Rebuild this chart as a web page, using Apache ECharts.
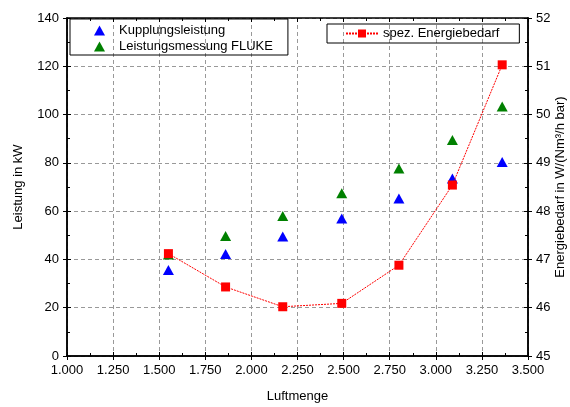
<!DOCTYPE html>
<html>
<head>
<meta charset="utf-8">
<script src="https://cdn.jsdelivr.net/npm/echarts@6/dist/echarts.min.js"></script>
<style>
html, body { margin: 0; padding: 0; background: #fff; }
#main { width: 570px; height: 407px; }
</style>
</head>
<body>
<div id="main"></div>
<script>
// Luftmenge (x)
var luftmenge = [1.55, 1.86, 2.17, 2.49, 2.80, 3.09, 3.36];
// Leistung in kW (linke Achse)
var kupplung = [35.6, 42.2, 49.5, 57.0, 65.2, 73.5, 80.4];
var fluke = [42.0, 49.7, 58.0, 67.4, 77.7, 89.5, 103.3];
// spez. Energiebedarf (rechte Achse)
var energie = [47.12, 46.43, 46.02, 46.09, 46.88, 48.54, 51.03];

function pairs(xs, ys) {
    var out = [];
    for (var i = 0; i < xs.length; i++) {
        out.push([xs[i], ys[i]]);
    }
    return out;
}

var fontFam = '"Liberation Sans", Arial, sans-serif';
var fs = 13;
var lineStyleAxis = { color: '#000', width: 1.5 };
var gridLine = { show: true, lineStyle: { color: '#999', type: [4, 3], width: 1 } };

// Achsen doppelt: eine mit Ticks aussen (+Beschriftung), eine mit Ticks innen (+Minor)
function xAx(pos, outside, labels) {
    return {
        type: 'value', position: pos, min: 1, max: 3.5, interval: 0.25,
        name: labels ? 'Luftmenge' : '', nameLocation: 'middle', nameGap: 34, nameMoveOverlap: false,
        nameTextStyle: { color: '#000', fontSize: fs, fontFamily: fontFam },
        axisLine: { show: true, onZero: false, lineStyle: lineStyleAxis },
        axisTick: { show: true, inside: !outside, length: 4, lineStyle: { color: '#000', width: 1 } },
        minorTick: { show: !outside, splitNumber: 2, length: 3, lineStyle: { color: '#000' } },
        axisLabel: {
            show: labels, color: '#000', fontSize: fs, fontFamily: fontFam, margin: 8,
            formatter: function (v) { return v.toFixed(3); }
        },
        splitLine: labels ? gridLine : { show: false }
    };
}

function yAx(pos, min, max, interval, outside, labels, name, nameGap) {
    return {
        type: 'value', position: pos, min: min, max: max, interval: interval,
        name: labels ? name : '', nameLocation: 'middle', nameGap: nameGap, nameRotate: 90,
        nameMoveOverlap: false,
        nameTextStyle: { color: '#000', fontSize: fs, fontFamily: fontFam },
        axisLine: { show: true, onZero: false, lineStyle: lineStyleAxis },
        axisTick: { show: true, inside: !outside, length: 4, lineStyle: { color: '#000', width: 1 } },
        minorTick: { show: !outside, splitNumber: 2, length: 3, lineStyle: { color: '#000' } },
        axisLabel: { show: labels, color: '#000', fontSize: fs, fontFamily: fontFam, margin: 8 },
        splitLine: (labels && pos === 'left') ? gridLine : { show: false }
    };
}

var myChart = echarts.init(document.getElementById('main'));
myChart.setOption({
    backgroundColor: '#fff',
    animation: false,
    textStyle: { fontFamily: fontFam },
    grid: { left: 67, right: 42, top: 18, bottom: 51, outerBoundsMode: 'none' },
    legend: [
        {
            data: ['Kupplungsleistung', 'Leistungsmessung FLUKE'],
            orient: 'vertical', left: 70, top: 19,
            borderColor: '#000', borderWidth: 1, borderRadius: 0,
            padding: [5, 15, 2, 24], itemGap: 3, itemWidth: 11, itemHeight: 10,
            textStyle: { color: '#000', fontSize: fs, fontFamily: fontFam, padding: [0, 0, 0, 9] }
        },
        {
            data: ['spez. Energiebedarf'],
            left: 327, top: 24,
            borderColor: '#000', borderWidth: 1, borderRadius: 0,
            padding: [3, 20, 3, 18], itemWidth: 32, itemHeight: 10,
            textStyle: { color: '#000', fontSize: fs, fontFamily: fontFam }
        }
    ],
    xAxis: [
        xAx('bottom', true, true),
        xAx('bottom', false, false),
        xAx('top', false, false)
    ],
    yAxis: [
        yAx('left', 0, 140, 20, true, true, 'Leistung in kW', 42),
        yAx('left', 0, 140, 20, false, false, '', 0),
        yAx('right', 45, 52, 1, true, true, 'Energiebedarf in W/(Nm\u00b3/h bar)', 26),
        yAx('right', 45, 52, 1, false, false, '', 0)
    ],
    series: [
        {
            name: 'Kupplungsleistung', type: 'scatter',
            xAxisIndex: 0, yAxisIndex: 0,
            symbol: 'triangle', symbolSize: [11, 10],
            itemStyle: { color: '#0000ff', opacity: 1 },
            data: pairs(luftmenge, kupplung)
        },
        {
            name: 'Leistungsmessung FLUKE', type: 'scatter',
            xAxisIndex: 0, yAxisIndex: 0,
            symbol: 'triangle', symbolSize: [11, 10],
            itemStyle: { color: '#008000', opacity: 1 },
            data: pairs(luftmenge, fluke)
        },
        {
            name: 'spez. Energiebedarf', type: 'line',
            xAxisIndex: 0, yAxisIndex: 2,
            symbol: 'rect', symbolSize: 9, showAllSymbol: true,
            lineStyle: { color: '#ff0000', width: 1, type: [2, 1] },
            itemStyle: { color: '#ff0000' },
            z: 3,
            data: pairs(luftmenge, energie)
        }
    ]
});

window.addEventListener('resize', function () {
    myChart.resize();
});
</script>
</body>
</html>
